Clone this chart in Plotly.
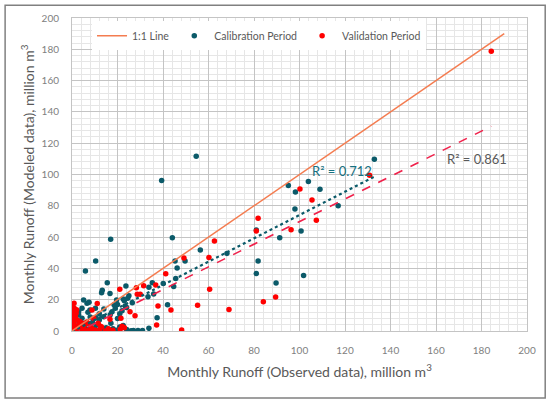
import numpy as np
import plotly.graph_objects as go

# calibration period (observed, modeled), million m3
cal_obs = [54.6, 39.4, 132.9, 103.9, 95.1, 98.2, 109.0, 98.0, 117.0, 100.7, 91.3, 81.0,
           81.8, 81.0, 101.8, 89.7, 44.1, 56.4, 68.1, 45.3, 49.7, 46.2, 45.6, 44.7,
           40.1, 35.3, 33.8, 35.9, 33.4, 42.0, 37.4, 33.8, 31.0, 29.0, 26.0, 23.7,
           15.5, 13.0, 13.3, 16.7, 23.0, 17.0, 10.4, 5.9, 5.1, 6.6, 4.4, 10.3,
           2.9, 4.4, 13.9, 17.6, 19.0, 23.4, 17.1, 22.0, 24.0, 21.0, 20.0, 12.0,
           8.0, 6.0, 3.0, 8.0, 10.0, 1.0, 2.0, 4.0, 6.0, 12.0, 14.0, 16.0,
           18.0, 19.5, 21.0, 22.5, 24.0, 15.0, 9.0, 7.0, 12.0, 14.0, 20.0, 22.5,
           24.5, 18.5, 25.0, 7.5, 3.0, 5.5, 11.0, 26.5, 19.6, 16.8, 7.9, 10.5,
           2.9, 7.5, 0.5, 1.5, 27.0, 9.0]
cal_mod = [111.7, 96.2, 109.8, 95.6, 93.0, 88.8, 90.5, 77.9, 80.0, 63.9, 59.6, 64.5,
           44.7, 36.8, 35.5, 30.6, 59.6, 51.7, 49.6, 44.7, 44.7, 40.2, 33.6, 28.5,
           30.4, 30.8, 27.9, 23.6, 21.9, 16.8, 8.5, 1.7, 0.3, 0.3, 0.2, 28.7,
           30.8, 24.5, 26.0, 24.0, 19.4, 58.7, 44.7, 38.3, 19.8, 17.7, 14.5, 14.5,
           10.2, 8.1, 9.1, 12.3, 14.5, 16.0, 4.9, 13.0, 15.0, 11.0, 8.0, 7.0,
           9.0, 5.0, 3.0, 3.0, 2.0, 1.0, 0.5, 0.3, 0.8, 0.5, 1.0, 0.3,
           1.5, 0.5, 2.5, 3.5, 1.0, 2.0, 5.5, 12.0, 11.0, 14.0, 17.0, 20.5,
           21.0, 16.8, 22.5, 1.0, 6.0, 2.0, 4.0, 18.0, 19.8, 10.4, 13.4, 8.5,
           12.3, 18.3, 0.2, 2.0, 0.3, 0.2]

# validation period (observed, modeled), million m3
val_obs = [184.3, 130.8, 100.2, 105.5, 107.4, 96.3, 89.5, 81.8, 81.0, 84.1, 62.6, 60.2,
           49.2, 60.5, 69.0, 55.2, 48.2, 43.5, 41.2, 37.8, 37.2, 36.8, 31.5, 28.3,
           28.7, 30.0, 21.0, 27.7, 25.5, 21.5, 16.7, 11.1, 0.9, 0.3, 0.3, 1.8,
           0.3, 2.2, 0.7, 2.9, 0.7, 4.4, 7.3, 9.5, 8.8, 10.2, 14.6, 21.2,
           0.2, 1.5, 3.5, 5.5, 6.5, 5.0, 2.5, 0.5, 0.4, 1.3, 6.0, 8.5,
           12.0, 16.0, 18.0, 22.0, 12.5, 3.5, 2.0, 1.0, 7.0, 4.5, 9.0, 13.0,
           11.5, 1.5, 0.2, 3.0, 23.0]
val_mod = [178.8, 99.6, 90.7, 83.7, 70.7, 64.7, 21.7, 72.0, 63.9, 18.7, 57.5, 47.0,
           46.6, 26.6, 13.8, 16.4, 0.6, 13.4, 36.6, 16.0, 3.8, 29.4, 28.9, 27.7,
           23.5, 23.5, 26.6, 9.8, 12.3, 8.1, 7.5, 17.5, 17.7, 16.0, 11.3, 11.3,
           8.1, 7.0, 4.9, 4.0, 0.6, 0.0, 0.6, 8.1, 13.4, 0.6, 0.0, 1.1,
           2.5, 1.5, 2.0, 3.5, 5.8, 1.0, 0.2, 6.5, 9.7, 3.0, 0.2, 2.0,
           0.3, 1.5, 0.5, 3.0, 3.0, 6.0, 13.5, 14.5, 5.0, 5.0, 1.0, 2.5,
           5.0, 9.0, 12.5, 0.5, 2.0]

# linear trends
cal_slope, cal_icpt, cal_r2 = 0.745, -0.4, 0.712
val_slope, val_icpt, val_r2 = 0.723, -2.4, 0.861
one_to_one_max = 190

TEAL = '#0b5a69'
RED = '#ff0000'
ORANGE = '#f47c50'
GREY = '#595959'
FONT = 'Lato'

fig = go.Figure()

fig.add_trace(go.Scatter(
    x=cal_obs, y=cal_mod, mode='markers', name='Calibration Period',
    marker=dict(color=TEAL, size=5.5), legendrank=2
))
fig.add_trace(go.Scatter(
    x=val_obs, y=val_mod, mode='markers', name='Validation Period',
    marker=dict(color=RED, size=5.5), legendrank=3
))

cx = np.array([0, max(cal_obs)])
fig.add_trace(go.Scatter(
    x=cx, y=cal_slope * cx + cal_icpt, mode='lines', showlegend=False,
    line=dict(color=TEAL, width=2.2, dash='dot'), hoverinfo='skip'
))
vx = np.array([0, max(val_obs)])
fig.add_trace(go.Scatter(
    x=vx, y=val_slope * vx + val_icpt, mode='lines', showlegend=False,
    line=dict(color='#f0204a', width=1.6, dash='dash'), hoverinfo='skip'
))
fig.add_trace(go.Scatter(
    x=[0, one_to_one_max], y=[0, one_to_one_max], mode='lines', name='1:1 Line',
    line=dict(color=ORANGE, width=1.5), legendrank=1
))

fig.add_annotation(x=118.5, y=102, text='R² = ' + str(cal_r2), showarrow=False,
                   font=dict(family=FONT, size=13, color='#167080'))
fig.add_annotation(x=178, y=110, text='R² = ' + str(val_r2), showarrow=False,
                   font=dict(family=FONT, size=13, color=GREY))

axis_common = dict(
    range=[0, 200], dtick=20, showgrid=True, gridcolor='#c4c4c4', gridwidth=1,
    minor=dict(dtick=4, showgrid=True, gridcolor='#e6e6e6', gridwidth=1),
    zeroline=False, showline=True, linecolor='#c4c4c4', mirror=True,
    tickfont=dict(family=FONT, size=10, color='#808080'),
    ticklabelstandoff=10, fixedrange=True, automargin=False
)

fig.update_layout(
    width=550, height=403,
    margin=dict(l=72, r=23, t=18, b=72),
    paper_bgcolor='white', plot_bgcolor='white',
    font=dict(family=FONT, color=GREY),
    xaxis=dict(axis_common, title=dict(
        text='Monthly Runoff (Observed data), million m<sup>3</sup>',
        font=dict(family=FONT, size=14, color=GREY), standoff=12)),
    yaxis=dict(axis_common, title=dict(
        text='Monthly Runoff (Modeled data), million m<sup>3</sup>',
        font=dict(family=FONT, size=14, color=GREY), standoff=3)),
    legend=dict(orientation='h', x=0.044, y=0.99, xanchor='left', yanchor='top',
                bgcolor='white', font=dict(family=FONT, size=10.5, color=GREY),
                itemwidth=30),
    shapes=[dict(type='rect', xref='paper', yref='paper',
                 x0=-0.147, x1=1.04, y0=-0.214, y1=1.041,
                 line=dict(color='#808080', width=1.5))],
)

# page body has a default 8px margin; drop it so the figure sits at 0,0
fig.write_html('out.html', config={'displayModeBar': False},
               post_script="document.body.style.margin='0';")
